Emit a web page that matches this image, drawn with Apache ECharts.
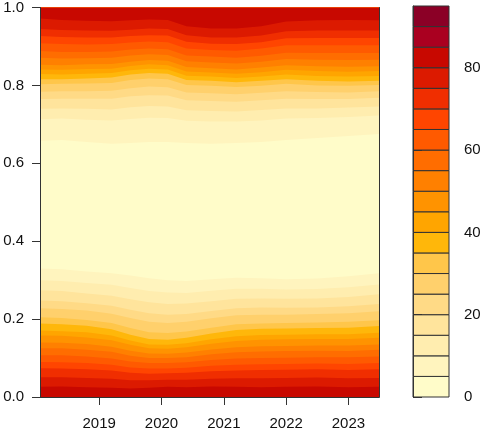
<!DOCTYPE html>
<html>
<head>
<meta charset="utf-8">
<script src="https://cdn.jsdelivr.net/npm/echarts@6/dist/echarts.min.js"></script>
<style>
html, body { margin: 0; padding: 0; background: #fff; }
#chart { width: 484px; height: 431px; }
</style>
</head>
<body>
<div id="chart"></div>
<script>
// sample columns (decimal year)
const times = [2018.05, 2018.4, 2018.8, 2019.2, 2019.5, 2019.8, 2020.1, 2020.4,
    2020.8, 2021.2, 2021.6, 2022.0, 2022.5, 2023.0, 2023.49];
const yearTicks = [2019, 2020, 2021, 2022, 2023];
const keyTicks = [0, 20, 40, 60, 80];
const levels = [0, 5, 10, 15, 20, 25, 30, 35, 40, 45, 50, 55, 60, 65, 70, 75, 80, 85, 90, 95];
const levelColors = ['#FFFCC9', '#FFF4BE', '#FFEDAF', '#FFE49C', '#FFDA86', '#FFD06C',
    '#FFC64A', '#FFB70A', '#FFA500', '#FF9300', '#FF8000', '#FF6D00', '#FF5A00',
    '#FF4500', '#F02E00', '#DC1A00', '#C80800', '#AA0020', '#8B0026'];

// lower half: y where value drops below 80, 75, ... 5 (one row per column)
const lowerLevels = [80, 75, 70, 65, 60, 55, 50, 45, 40, 35, 30, 25, 20, 15, 10, 5];
const lowerEdges = [
    [.026, .051, .074, .090, .107, .125, .140, .158, .171, .189, .205, .228, .248, .274, .300, .330],
    [.027, .051, .073, .089, .107, .125, .139, .157, .169, .187, .203, .226, .246, .272, .298, .328],
    [.025, .049, .071, .087, .104, .121, .136, .153, .166, .183, .198, .222, .241, .266, .293, .322],
    [.024, .047, .068, .083, .099, .116, .129, .146, .158, .174, .190, .214, .234, .260, .288, .318],
    [.022, .043, .062, .076, .091, .106, .119, .134, .145, .160, .177, .203, .224, .251, .280, .312],
    [.024, .043, .060, .073, .087, .100, .112, .125, .135, .149, .166, .193, .215, .243, .272, .305],
    [.026, .044, .061, .073, .087, .100, .111, .124, .134, .147, .164, .190, .211, .239, .268, .300],
    [.025, .044, .062, .075, .089, .102, .114, .128, .138, .152, .168, .193, .213, .240, .267, .298],
    [.027, .047, .066, .080, .095, .110, .122, .137, .148, .163, .178, .202, .221, .246, .273, .302],
    [.026, .048, .068, .083, .099, .115, .128, .144, .156, .172, .187, .210, .228, .252, .278, .306],
    [.025, .048, .069, .084, .100, .117, .130, .147, .159, .175, .189, .211, .230, .253, .278, .305],
    [.026, .049, .070, .085, .101, .118, .131, .148, .160, .176, .190, .211, .229, .252, .276, .302],
    [.027, .050, .071, .086, .102, .119, .132, .149, .161, .177, .191, .213, .230, .253, .277, .304],
    [.025, .048, .069, .085, .102, .118, .132, .149, .161, .178, .193, .215, .233, .257, .282, .310],
    [.026, .049, .071, .087, .104, .121, .135, .152, .165, .182, .197, .220, .239, .264, .289, .318]
];

// upper half: y where value rises above 5, 10, ... 80 (one row per column)
const upperLevels = [5, 10, 15, 20, 25, 30, 35, 40, 45, 50, 55, 60, 65, 70, 75, 80];
const upperEdges = [
    [.658, .713, .740, .765, .784, .803, .816, .829, .841, .853, .871, .888, .908, .927, .945, .972],
    [.660, .715, .741, .766, .785, .804, .816, .828, .840, .852, .869, .886, .906, .924, .942, .968],
    [.655, .712, .740, .766, .785, .805, .818, .830, .842, .854, .870, .886, .905, .923, .941, .966],
    [.650, .710, .738, .766, .786, .806, .820, .832, .843, .855, .871, .887, .906, .923, .940, .965],
    [.652, .714, .744, .772, .793, .814, .828, .839, .850, .861, .877, .892, .910, .927, .943, .967],
    [.655, .717, .747, .775, .797, .818, .832, .843, .854, .865, .880, .895, .913, .929, .946, .969],
    [.655, .716, .746, .774, .795, .816, .830, .841, .852, .863, .878, .893, .911, .928, .945, .968],
    [.652, .709, .736, .762, .782, .801, .814, .825, .836, .847, .862, .877, .895, .912, .929, .952],
    [.650, .707, .734, .760, .780, .799, .812, .823, .833, .844, .859, .874, .891, .907, .923, .946],
    [.652, .707, .733, .758, .777, .796, .808, .819, .830, .841, .856, .871, .889, .906, .923, .946],
    [.655, .710, .737, .762, .781, .799, .812, .823, .834, .846, .861, .876, .895, .911, .928, .952],
    [.660, .715, .741, .766, .785, .804, .816, .828, .840, .852, .868, .884, .903, .921, .939, .964],
    [.665, .716, .741, .765, .783, .800, .812, .824, .837, .849, .866, .883, .903, .922, .941, .967],
    [.670, .719, .743, .765, .782, .799, .810, .823, .835, .848, .865, .883, .903, .922, .941, .968],
    [.675, .723, .746, .768, .785, .801, .812, .824, .837, .849, .866, .883, .903, .922, .941, .967]
];

// filled regions, painted from the lightest level upwards
const zeros = times.map(() => 0), ones = times.map(() => 1);
const shapes = [{ level: 0, lower: zeros, upper: ones }];
for (let i = lowerLevels.length - 1; i >= 0; i--) {
    shapes.push({ level: lowerLevels[i] / 5, lower: zeros, upper: lowerEdges.map(c => c[i]) });
}
for (let j = 0; j < upperLevels.length; j++) {
    shapes.push({ level: upperLevels[j] / 5, lower: upperEdges.map(c => c[j]), upper: ones });
}

function renderBand(params, api) {
    const s = shapes[params.dataIndex];
    const pts = [];
    times.forEach((t, i) => pts.push(api.coord([t, s.upper[i]])));
    for (let i = times.length - 1; i >= 0; i--) {
        pts.push(api.coord([times[i], s.lower[i]]));
    }
    return {
        type: 'polygon',
        shape: { points: pts },
        style: { fill: levelColors[s.level], stroke: null },
    };
}

function renderKey(params, api) {
    const k = params.dataIndex;
    const p0 = api.coord([0, levels[k]]);
    const p1 = api.coord([1, levels[k + 1]]);
    return {
        type: 'rect',
        shape: { x: p0[0], y: p1[1], width: p1[0] - p0[0], height: p0[1] - p1[1] },
        style: { fill: levelColors[k], stroke: '#333', lineWidth: 1 },
    };
}

const font = { fontFamily: "'Liberation Sans', Arial, sans-serif", fontSize: 15, color: '#111' };
const line = { show: true, lineStyle: { color: '#333', width: 1 } };
const noLabel = { show: false };

const option = {
    animation: false,
    grid: [
        { left: 40, top: 6, width: 339, height: 391 },
        { left: 413, top: 6, width: 36, height: 391 },
    ],
    xAxis: [
        {
            gridIndex: 0, type: 'value', min: 2018.05, max: 2023.49, z: 10,
            axisLine: line,
            axisTick: { show: true, length: 8, customValues: yearTicks, lineStyle: { color: '#333' } },
            axisLabel: Object.assign({ margin: 19, customValues: yearTicks, formatter: v => String(v) }, font),
            splitLine: { show: false },
        },
        {
            gridIndex: 0, type: 'value', min: 2018.05, max: 2023.49, position: 'top', z: 10,
            axisLine: line, axisTick: { show: false }, axisLabel: noLabel, splitLine: { show: false },
        },
        {
            gridIndex: 1, type: 'value', min: 0, max: 1, show: false,
        },
    ],
    yAxis: [
        {
            gridIndex: 0, type: 'value', min: 0, max: 1, interval: 0.2, z: 10,
            axisLine: line,
            axisTick: { show: true, length: 8, lineStyle: { color: '#333' } },
            axisLabel: Object.assign({ margin: 16, formatter: v => v.toFixed(1) }, font),
            splitLine: { show: false },
        },
        {
            gridIndex: 0, type: 'value', min: 0, max: 1, position: 'right', z: 10,
            axisLine: line, axisTick: { show: false }, axisLabel: noLabel, splitLine: { show: false },
        },
        {
            gridIndex: 1, type: 'value', min: 0, max: 95, position: 'right', z: 10,
            axisLine: line,
            axisTick: { show: true, length: 9, customValues: keyTicks, lineStyle: { color: '#333' } },
            axisLabel: Object.assign({ margin: 15, customValues: keyTicks }, font),
            splitLine: { show: false },
        },
    ],
    series: [
        {
            type: 'custom',
            xAxisIndex: 0,
            yAxisIndex: 0,
            silent: true,
            clip: true,
            renderItem: renderBand,
            data: shapes.map((s, i) => [times[0], 0, i]),
        },
        {
            type: 'custom',
            xAxisIndex: 2,
            yAxisIndex: 2,
            silent: true,
            renderItem: renderKey,
            data: levelColors.map((c, k) => [0, levels[k]]),
        },
    ],
};

const myChart = echarts.init(document.getElementById('chart'), null, { renderer: 'canvas' });
myChart.setOption(option);
</script>
</body>
</html>
